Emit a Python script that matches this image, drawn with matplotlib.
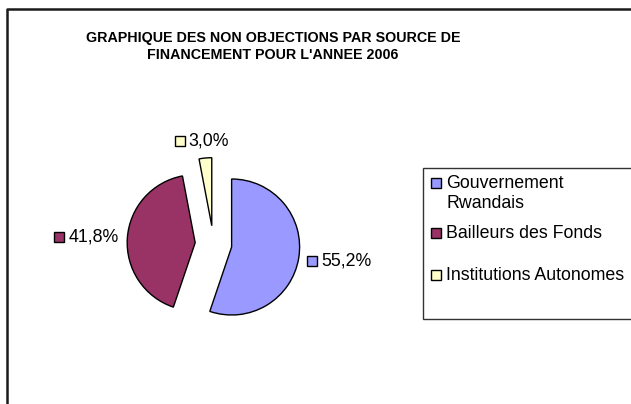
import numpy as np
import matplotlib
matplotlib.use("Agg")
import matplotlib.pyplot as plt
from matplotlib.patches import Rectangle
from matplotlib.lines import Line2D
from matplotlib.offsetbox import DrawingArea, TextArea, HPacker, AnnotationBbox

plt.rcParams['font.family'] = ['Liberation Sans', 'DejaVu Sans']

# Data
categories = ["Gouvernement\nRwandais", "Bailleurs des Fonds", "Institutions Autonomes"]
values = [55.2, 41.8, 3.0]
colors = ["#9999FF", "#993366", "#FFFFCC"]
title = "GRAPHIQUE DES NON OBJECTIONS PAR SOURCE DE\nFINANCEMENT POUR L'ANNEE 2006"

W, H = 631, 404
fig = plt.figure(figsize=(W / 100, H / 100), dpi=100)


def fx(px):
    return px / W


def fy(py):
    # py measured from the top
    return 1 - py / H


# chart frame (only left and top edges visible)
fig.add_artist(Line2D([fx(6.5), fx(6.5), fx(W + 10)],
                      [fy(H + 10), fy(9), fy(9)],
                      color="#1a1a1a", lw=1.8))

fig.text(fx(273), fy(46.5), title, ha="center", va="center",
         fontsize=10.3, fontweight="bold", linespacing=1.35)

# pie axes: radius 68 px, centre at (213.5, 244)
r_px = 68.0
cx, cy = 213.5, 244
half = 150
ax = fig.add_axes([fx(cx - half), fy(cy + half), half * 2 / W, half * 2 / H])
wedges, _ = ax.pie(values, colors=colors, explode=[0.27] * 3,
                   startangle=90, counterclock=False,
                   wedgeprops=dict(edgecolor="black", linewidth=1.0))
ax.set_xlim(-half / r_px, half / r_px)
ax.set_ylim(-half / r_px, half / r_px)
ax.set_aspect("equal")
ax.axis("off")

# data labels with a small key square
for w, v, c in zip(wedges, values, colors):
    th = np.deg2rad((w.theta1 + w.theta2) / 2)
    p = (1.40 * np.cos(th), 1.40 * np.sin(th))
    da = DrawingArea(7.2, 7.2, 0, 0)
    da.add_artist(Rectangle((0, 0), 7.2, 7.2, facecolor=c, edgecolor="black", lw=1.0))
    txt = TextArea(f"{v:.1f}%".replace(".", ","),
                   textprops=dict(fontsize=12.8, color="black"))
    pack = HPacker(children=[da, txt], align="center", pad=0, sep=3)
    ab = AnnotationBbox(pack, p, xycoords="data", frameon=False, pad=0,
                        box_alignment=(0.5 - 0.5 * np.cos(th), 0.5 - 0.5 * np.sin(th)))
    ax.add_artist(ab)

# legend box
fig.add_artist(Rectangle((fx(422.7), fy(319)), fx(W + 20 - 422.7), (319 - 168) / H,
                         facecolor="white", edgecolor="#333333", lw=1.0))
legend_rows = [183, 233, 275]
for lab, c, row in zip(categories, colors, legend_rows):
    fig.add_artist(Rectangle((fx(431), fy(row + 5)), 10 / W, 10 / H,
                             facecolor=c, edgecolor="black", lw=1.0))
    fig.text(fx(446), fy(row - 8), lab, ha="left", va="top",
             fontsize=12.8, linespacing=1.2)

fig.savefig("out.png", dpi=100)
